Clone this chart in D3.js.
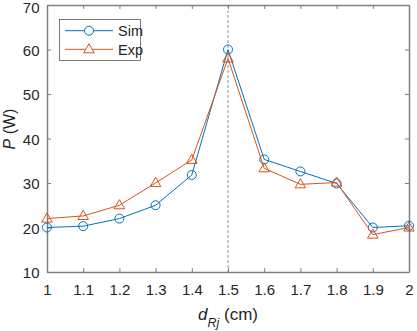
<!DOCTYPE html>
<html>
<head>
<meta charset="utf-8">
<script src="https://cdn.jsdelivr.net/npm/d3@7"></script>
<style>
  body { margin: 0; background: #fff; }
  text { font-family: "Liberation Sans", Arial, sans-serif; fill: #262626; }
</style>
</head>
<body>
<div class="graph"></div>
<script>
// data
var dRj = [1, 1.1, 1.2, 1.3, 1.4, 1.5, 1.6, 1.7, 1.8, 1.9, 2.0]
var simP = [20, 20.3, 22, 25, 31.8, 60, 35.3, 32.6, 29.9, 20, 20.4]
var expP = [22, 22.6, 25, 30, 35.2, 58, 33.3, 29.7, 30.1, 18.4, 20]
var xTicks = [1, 1.1, 1.2, 1.3, 1.4, 1.5, 1.6, 1.7, 1.8, 1.9, 2]
var yTicks = [10, 20, 30, 40, 50, 60, 70]
var peakX = 1.5

var basewidth = 417, baseheight = 331
var margin = { top: 5, right: 8, bottom: 59, left: 47 },
    width = basewidth - margin.left - margin.right,
    height = baseheight - margin.top - margin.bottom

var blue = '#0072bd', orange = '#d95319', axisCol = '#808080'

var svg = d3.select('.graph')
    .append('svg')
    .attr('width', basewidth)
    .attr('height', baseheight)
var canvas = svg.append('g')
    .attr('transform', 'translate(' + margin.left + ',' + margin.top + ')')

var x = d3.scaleLinear().domain([1, 2]).range([0, width])
var y = d3.scaleLinear().domain([10, 70]).range([height, 0])

// axes, ticks pointing inward on all four sides
function styleAxis(g) {
    g.select('.domain').attr('stroke', axisCol).attr('stroke-width', 1.5)
    g.selectAll('.tick line').attr('stroke', axisCol).attr('stroke-width', 1)
    g.selectAll('.tick text').style('font-size', '15px').attr('fill', '#262626')
}
canvas.append('g')
    .attr('transform', 'translate(0,' + height + ')')
    .call(d3.axisBottom(x).tickValues(xTicks).tickFormat(d3.format('~g')).tickSizeInner(-4).tickSizeOuter(0).tickPadding(12.5))
    .call(styleAxis)
canvas.append('g')
    .call(d3.axisLeft(y).tickValues(yTicks).tickSizeInner(-4).tickSizeOuter(0).tickPadding(7.5))
    .call(styleAxis)
    .selectAll('.tick text')
    .attr('dy', function(d) { return d == 70 ? '0.5em' : '0.38em' })
canvas.append('g')
    .call(d3.axisTop(x).tickValues(xTicks).tickFormat('').tickSizeInner(-4).tickSizeOuter(0))
    .call(styleAxis)
canvas.append('g')
    .attr('transform', 'translate(' + width + ',0)')
    .call(d3.axisRight(y).tickValues(yTicks).tickFormat('').tickSizeInner(-4).tickSizeOuter(0))
    .call(styleAxis)

// dashed marker at the peak
canvas.append('line')
    .attr('x1', x(peakX)).attr('x2', x(peakX))
    .attr('y1', 0).attr('y2', height)
    .attr('stroke', '#777')
    .attr('stroke-width', 0.8)
    .attr('stroke-dasharray', '3 2')

var line = d3.line()
    .x(function(d, i) { return x(dRj[i]) })
    .y(function(d) { return y(d) })

var tri = d3.symbol().type(d3.symbolTriangle).size(48)

function drawSeries(vals, color, marker) {
    canvas.append('path')
        .datum(vals)
        .attr('d', line)
        .attr('fill', 'none')
        .attr('stroke', color)
        .attr('stroke-width', 1)
    var m = canvas.append('g').selectAll(null).data(vals).enter()
    if (marker == 'circle') {
        m.append('circle')
            .attr('cx', function(d, i) { return x(dRj[i]) })
            .attr('cy', function(d) { return y(d) })
            .attr('r', 4.5)
            .attr('fill', 'none')
            .attr('stroke', color)
    } else {
        m.append('path')
            .attr('d', tri)
            .attr('transform', function(d, i) { return 'translate(' + x(dRj[i]) + ',' + (y(d) + 0.5) + ')' })
            .attr('fill', 'none')
            .attr('stroke', color)
    }
}
drawSeries(simP, blue, 'circle')
drawSeries(expP, orange, 'triangle')

// legend
var leg = svg.append('g')
leg.append('rect')
    .attr('x', 59.5).attr('y', 19.5)
    .attr('width', 81).attr('height', 41)
    .attr('fill', '#fff')
    .attr('stroke', '#262626')
    .attr('stroke-width', 0.6)
var entries = [['Sim', blue, 'circle', 30.7], ['Exp', orange, 'triangle', 49.3]]
entries.forEach(function(e) {
    leg.append('line')
        .attr('x1', 65).attr('x2', 113)
        .attr('y1', e[3]).attr('y2', e[3])
        .attr('stroke', e[1])
    if (e[2] == 'circle') {
        leg.append('circle').attr('cx', 89).attr('cy', e[3]).attr('r', 4.5)
            .attr('fill', '#fff').attr('stroke', e[1])
    } else {
        leg.append('path').attr('d', tri)
            .attr('transform', 'translate(89,' + (e[3] + 0.5) + ')')
            .attr('fill', '#fff').attr('stroke', e[1])
    }
    leg.append('text')
        .attr('x', 118).attr('y', e[3] + 5.5)
        .style('font-size', '14.5px')
        .text(e[0])
})

// axis labels
var xl = svg.append('text')
    .attr('x', 228)
    .attr('y', 320)
    .attr('text-anchor', 'middle')
    .style('font-size', '17px')
xl.append('tspan').attr('font-style', 'italic').text('d')
xl.append('tspan').attr('font-style', 'italic').attr('dy', 6.5).style('font-size', '12.5px').text('Rj')
xl.append('tspan').attr('dy', -6.5).text(' (cm)')

var yl = svg.append('text')
    .attr('transform', 'translate(15,129) rotate(-90)')
    .attr('text-anchor', 'middle')
    .style('font-size', '16px')
yl.append('tspan').attr('font-style', 'italic').text('P')
yl.append('tspan').text(' (W)')
</script>
</body>
</html>
